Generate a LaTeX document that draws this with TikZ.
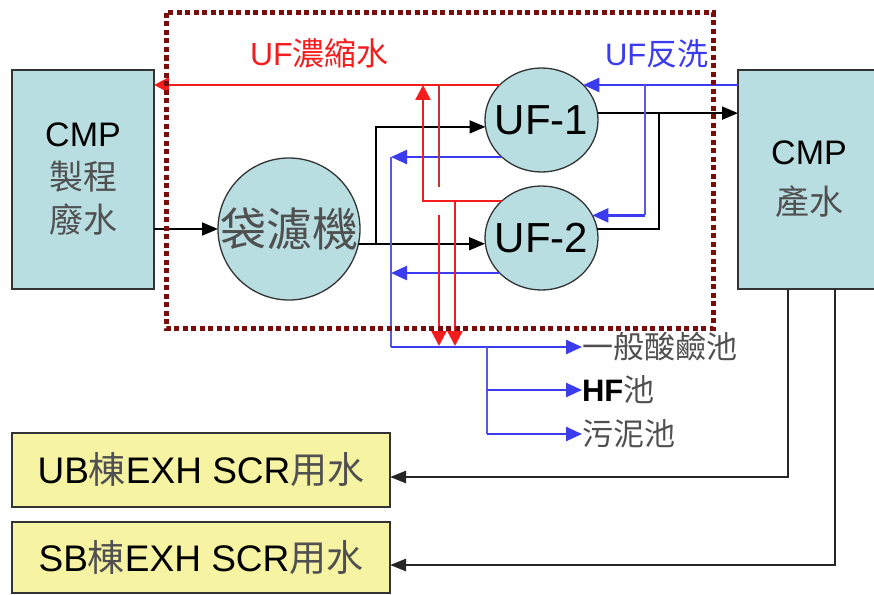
\documentclass[tikz,border=0pt]{standalone}
\usepackage{fontspec}
\setmainfont{Liberation Sans}
\newfontfamily\cjk{Noto Sans CJK TC}
\usetikzlibrary{arrows.meta,shapes.geometric}
\definecolor{boxblue}{HTML}{B9DEE2}
\definecolor{boxyel}{HTML}{F6F3A2}
\definecolor{dred}{HTML}{7A0C0C}
\definecolor{myred}{HTML}{F41C1C}
\definecolor{thinred}{HTML}{C83232}
\definecolor{myblue}{HTML}{3B3BF0}
\definecolor{thinblue}{HTML}{5A5AE6}
\definecolor{zhgray}{HTML}{505050}
\newcommand\zht[1]{{\cjk\color{zhgray}#1}}
\begin{document}
\begin{tikzpicture}[x=1pt,y=-1pt,
  every node/.style={inner sep=0pt,outer sep=0pt},
  procbox/.style={draw=black!80,line width=1.3pt,fill=boxblue,align=center},
  filt/.style={draw=black!80,line width=1.3pt,fill=boxblue},
  ybox/.style={draw=black!80,line width=1.3pt,fill=boxyel},
  blkhead/.style={-{Triangle[length=16pt,width=13pt]}},
  blk/.style={draw=black,line width=1.8pt,blkhead},
  blkline/.style={draw=black,line width=1.8pt},
  blkthick/.style={draw=black!85,line width=2.5pt,-{Triangle[length=16pt,width=12pt]}},
  barr/.style={draw=myblue,line width=2.4pt,-{Triangle[length=16pt,width=14pt]}},
  bthin/.style={draw=thinblue,line width=1.4pt},
  rarr/.style={draw=myred,line width=2.4pt,-{Triangle[length=15pt,width=15pt]}},
  rthin/.style={draw=thinred,line width=1.4pt},
  dotframe/.style={draw=dred,line width=5pt,dash pattern=on 5pt off 3.5pt}
]
\useasboundingbox (0,0) rectangle (874,594);

% main nodes
\node[procbox,minimum width=142pt,minimum height=219pt,
      font=\fontsize{34}{43}\selectfont] (lbox) at (83,179.5)
      {CMP\\\zht{製程}\\\zht{廢水}};
\node[procbox,minimum width=142pt,minimum height=219pt,
      font=\fontsize{34}{50}\selectfont] (rbox) at (809,179.5)
      {CMP\\\zht{產水}};
\node[filt,circle,minimum size=142pt] (bag) at (289,229)
      {\makebox[0pt]{\fontsize{46}{46}\selectfont\zht{袋濾機}}};
\node[filt,ellipse,minimum width=113pt,minimum height=104pt] (uf1) at (541.5,120)
      {\makebox[0pt]{\fontsize{42}{42}\selectfont UF-1}};
\node[filt,ellipse,minimum width=113pt,minimum height=104pt] (uf2) at (541.5,238)
      {\makebox[0pt]{\fontsize{42}{42}\selectfont UF-2}};
\node[ybox,minimum width=378pt,minimum height=74pt,
      font=\fontsize{37}{37}\selectfont] (ub) at (201,470)
      {UB\zht{棟}EXH SCR\zht{用水}};
\node[ybox,minimum width=378pt,minimum height=71pt,
      font=\fontsize{37}{37}\selectfont] (sb) at (201,557.5)
      {SB\zht{棟}EXH SCR\zht{用水}};

% labels
\node[anchor=base west,text=myred,font=\fontsize{32}{32}\selectfont] (tconc) at (250,66)
      {UF{\cjk 濃縮水}};
\node[anchor=base west,text=myblue,font=\fontsize{31}{31}\selectfont] (tback) at (605,65)
      {UF{\cjk 反洗}};
\node[anchor=west,font=\fontsize{31}{31}\selectfont] (acid) at (582,347) {\zht{一般酸鹼池}};
\node[anchor=west,font=\fontsize{31}{31}\selectfont] (hf) at (582,390) {\textbf{HF}\zht{池}};
\node[anchor=west,font=\fontsize{31}{31}\selectfont] (sludge) at (582,434) {\zht{污泥池}};

% helper x positions
\coordinate (xa) at (376,0);
\coordinate (xb) at (659,0);
\coordinate (xc) at (645,0);
\coordinate (xd) at (391,0);
\coordinate (xe) at (487,0);
\coordinate (xf) at (423,0);
\coordinate (xg) at (439,0);
\coordinate (xh) at (455,0);
\coordinate (xub) at (788,0);
\coordinate (xsb) at (835,0);
\coordinate (gapa) at (439,187);
\coordinate (gapb) at (439,215);
\coordinate (rendg) at (439,346);
\coordinate (rendh) at (455,346);

% black flow
\draw[blk] (lbox.east |- bag.west) -- (bag.west);
\draw[blk] (bag.-12) -- (uf2.west |- bag.-12);
\draw[blk] (bag.-12 -| xa) |- (uf1.187);
\draw[blk] (uf1.7) -- (rbox.west |- uf1.7);
\draw[blkline] (uf2.9) -| (uf1.7 -| xb);

% blue backwash
\draw[barr] (rbox.west |- uf1.40) -- (uf1.40);
\draw[bthin] (uf1.40 -| xc) -- (uf2.24 -| xc);
\draw[barr] (uf2.24 -| xc) -- (uf2.24);
\draw[barr] (uf1.223) -- (uf1.223 -| xd);
\draw[barr] (uf2.220) -- (uf2.220 -| xd);
\draw[bthin] (uf1.223 -| xd) -- (acid.west -| xd);
\draw[barr] (acid.west -| xd) -- (acid.west);
\draw[bthin] (acid.west -| xe) -- (sludge.west -| xe);
\draw[barr] (hf.west -| xe) -- (hf.west);
\draw[barr] (sludge.west -| xe) -- (sludge.west);

% red concentrate
\draw[rarr] (uf1.140) -- (lbox.east |- uf1.140);
\draw[rthin] (uf1.140 -| xg) -- (gapa);
\draw[rarr] (gapb) -- (rendg);
\draw[rarr] (uf2.137) -| (uf1.140 -| xf);
\draw[rarr] (uf2.137 -| xh) -- (rendh);

% product water to scrubbers
\draw[blkthick] (rbox.south -| xub) |- ([yshift=-7pt]ub.east);
\draw[blkthick] (rbox.south -| xsb) |- ([yshift=-7.5pt]sb.east);

% dotted frame
\draw[dotframe] (166,13) rectangle (713,328);
\end{tikzpicture}
\end{document}
